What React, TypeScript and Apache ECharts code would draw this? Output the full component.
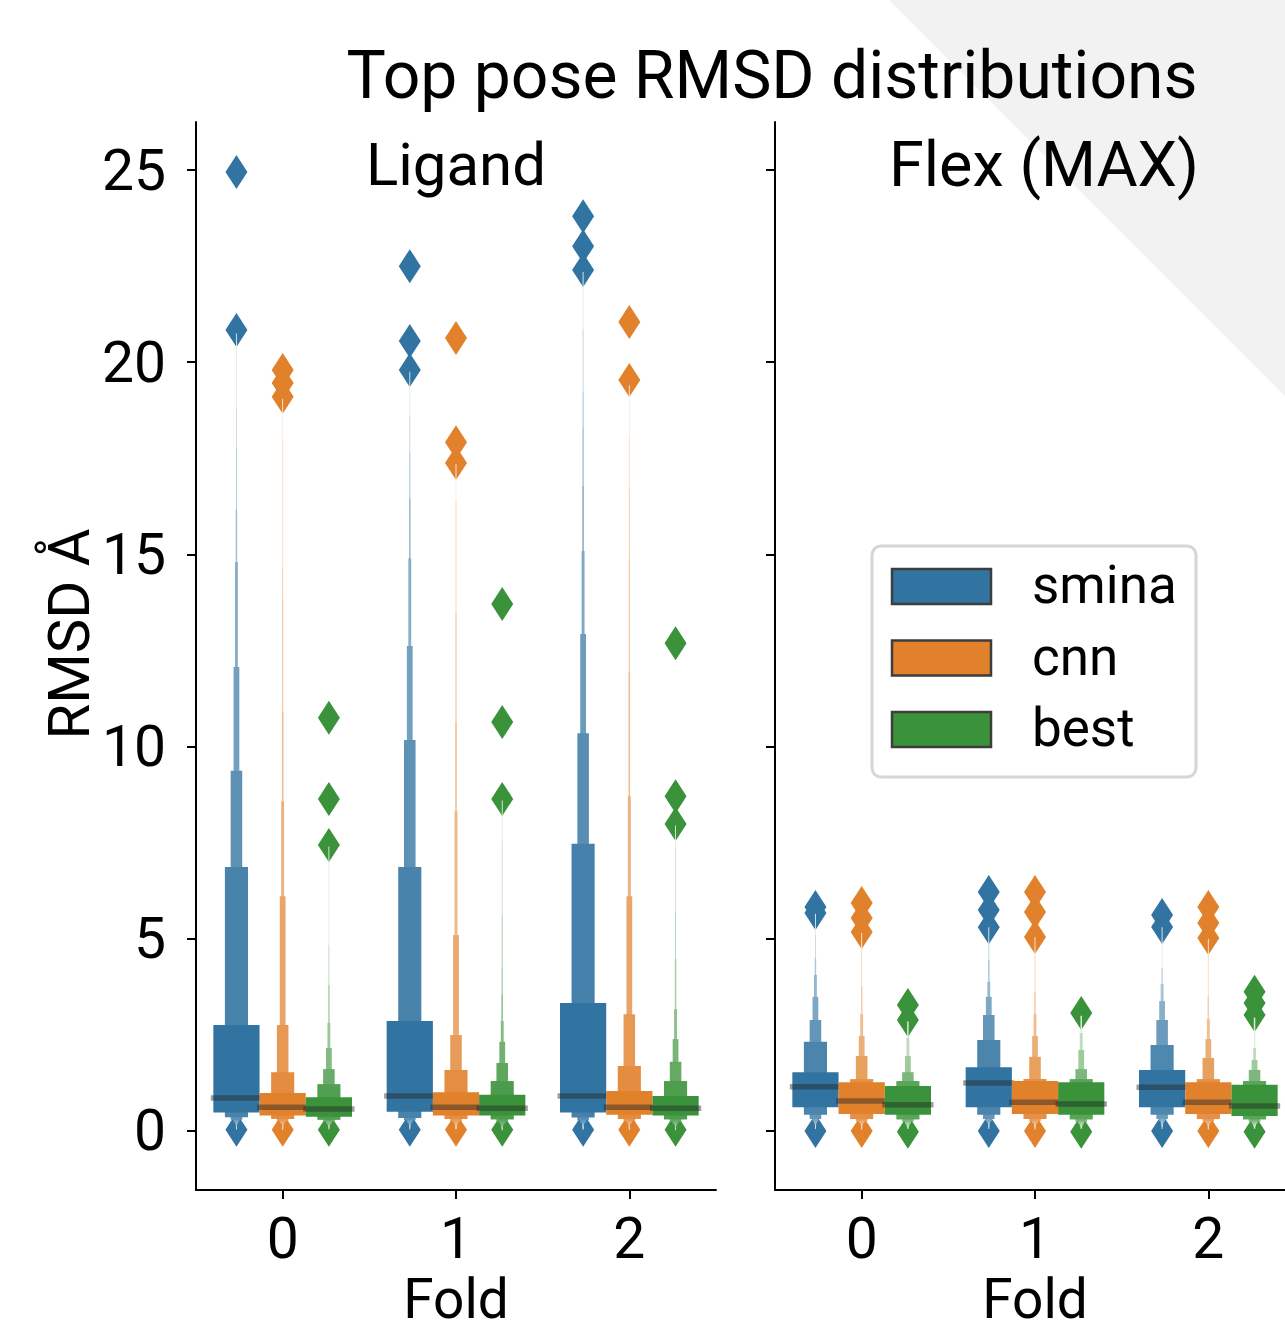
import React, { useEffect, useRef } from 'react';
import * as echarts from 'echarts';

const folds = ['0', '1', '2'];
const methods = ['smina', 'cnn', 'best'];
const methodColors = ['#3274a1', '#e1812c', '#3a923a'];
const yTicks = [0, 5, 10, 15, 20, 25];
const panelTitles = ['Ligand', 'Flex (MAX)'];

// ---------- Ligand panel (letter values: innermost first) ----------
const ligandSminaUpper = [
  [2.76, 6.87, 9.37, 12.07, 14.8, 16.18, 17.77, 18.81, 20.75],
  [2.86, 6.87, 10.17, 12.62, 14.9, 16.44, 17.64, 18.63, 19.75],
  [3.33, 7.47, 10.35, 12.93, 15.09, 16.78, 18.29, 19.22, 20.86, 22.35],
];
const ligandSminaLower = [
  [0.48, 0.36, 0.29, 0.23, 0.18, 0.14, 0.11, 0.08, 0.04],
  [0.5, 0.34, 0.28, 0.22, 0.18, 0.14, 0.11, 0.08, 0.04],
  [0.48, 0.35, 0.28, 0.22, 0.18, 0.14, 0.11, 0.08, 0.06, 0.03],
];
const ligandSminaMedian = [0.86, 0.91, 0.91];
const ligandSminaOutliers = [
  [24.95, 20.84, 0.03],
  [22.5, 20.55, 19.8, 0.03],
  [23.8, 23.02, 22.4, 0.03],
];

const ligandCnnUpper = [
  [0.99, 1.53, 2.76, 6.11, 8.58, 10.9, 13.81, 14.65, 17.98, 19.05],
  [1.01, 1.59, 2.5, 5.1, 8.32, 10.64, 13.5, 16.4, 17.35],
  [1.04, 1.69, 3.04, 6.11, 8.71, 11.94, 14.88, 16.68, 18.05, 19.4],
];
const ligandCnnLower = [
  [0.4, 0.31, 0.26, 0.21, 0.17, 0.13, 0.1, 0.08, 0.06, 0.03],
  [0.4, 0.31, 0.26, 0.21, 0.17, 0.13, 0.1, 0.07, 0.04],
  [0.42, 0.31, 0.26, 0.21, 0.17, 0.13, 0.1, 0.08, 0.06, 0.03],
];
const ligandCnnMedian = [0.62, 0.62, 0.62];
const ligandCnnOutliers = [
  [19.8, 19.46, 19.1, 0.03],
  [20.63, 17.92, 17.38, 0.03],
  [21.05, 19.54, 0.03],
];

const ligandBestUpper = [
  [0.88, 1.22, 1.61, 2.16, 2.81, 3.8, 4.84, 7.4],
  [0.94, 1.3, 1.77, 2.32, 2.86, 3.54, 4.24, 5.59, 7.54, 8.6],
  [0.91, 1.3, 1.8, 2.39, 3.17, 4.47, 5.72, 7.39, 7.95],
];
const ligandBestLower = [
  [0.37, 0.29, 0.24, 0.19, 0.15, 0.11, 0.08, 0.04],
  [0.4, 0.3, 0.24, 0.19, 0.15, 0.11, 0.08, 0.06, 0.04, 0.02],
  [0.4, 0.3, 0.24, 0.19, 0.15, 0.11, 0.08, 0.05, 0.02],
];
const ligandBestMedian = [0.57, 0.59, 0.59];
const ligandBestOutliers = [
  [10.75, 8.64, 7.44, 0.03],
  [13.71, 10.64, 8.64, 0.03],
  [12.69, 8.71, 7.99, 0.03],
];

// ---------- Flex (MAX) panel ----------
const flexSminaUpper = [
  [1.53, 2.32, 2.89, 3.49, 4.06, 4.5, 5.1, 5.65],
  [1.66, 2.37, 3.02, 3.49, 3.88, 4.45, 4.92, 5.3],
  [1.59, 2.24, 2.89, 3.38, 3.82, 4.24, 5.3],
];
const flexSminaLower = [
  [0.62, 0.42, 0.31, 0.25, 0.2, 0.15, 0.1, 0.05],
  [0.62, 0.42, 0.31, 0.25, 0.2, 0.15, 0.1, 0.05],
  [0.62, 0.42, 0.31, 0.25, 0.2, 0.12, 0.05],
];
const flexSminaMedian = [1.15, 1.25, 1.14];
const flexSminaOutliers = [
  [5.83, 5.67, 0.0],
  [6.22, 5.75, 5.3, 0.0],
  [5.62, 5.31, 0.0],
];

const flexCnnUpper = [
  [1.27, 1.35, 1.95, 2.47, 3.04, 3.77, 4.89, 5.15],
  [1.3, 1.35, 1.93, 2.47, 3.04, 3.62, 4.58, 5.05],
  [1.27, 1.35, 1.9, 2.39, 2.91, 3.49, 4.6, 5.0],
];
const flexCnnLower = [
  [0.44, 0.31, 0.26, 0.21, 0.17, 0.12, 0.08, 0.04],
  [0.44, 0.31, 0.26, 0.21, 0.17, 0.12, 0.08, 0.04],
  [0.44, 0.31, 0.26, 0.21, 0.17, 0.12, 0.08, 0.04],
];
const flexCnnMedian = [0.78, 0.75, 0.75];
const flexCnnOutliers = [
  [5.93, 5.54, 5.18, 0.0],
  [6.22, 5.7, 5.05, 0.0],
  [5.83, 5.41, 5.02, 0.0],
];

const flexBestUpper = [
  [1.17, 1.3, 1.53, 1.95, 2.42, 2.85],
  [1.27, 1.35, 1.61, 2.11, 2.55, 3.0],
  [1.2, 1.3, 1.59, 1.85, 2.16, 2.95],
];
const flexBestLower = [
  [0.42, 0.3, 0.24, 0.18, 0.12, 0.06],
  [0.42, 0.3, 0.24, 0.18, 0.12, 0.06],
  [0.39, 0.3, 0.24, 0.18, 0.12, 0.06],
];
const flexBestMedian = [0.68, 0.7, 0.65];
const flexBestOutliers = [
  [3.28, 2.89, -0.02],
  [3.07, -0.02],
  [3.62, 3.33, 3.02, -0.02],
];

type Group = { upper: number[]; lower: number[]; median: number; outliers: number[] };

function makePanel(
  uppers: number[][][],
  lowers: number[][][],
  medians: number[][],
  outs: number[][][]
): Group[][] {
  return uppers.map((u, m) =>
    u.map((up, f) => ({ upper: up, lower: lowers[m][f], median: medians[m][f], outliers: outs[m][f] }))
  );
}

const panels: Group[][][] = [
  makePanel(
    [ligandSminaUpper, ligandCnnUpper, ligandBestUpper],
    [ligandSminaLower, ligandCnnLower, ligandBestLower],
    [ligandSminaMedian, ligandCnnMedian, ligandBestMedian],
    [ligandSminaOutliers, ligandCnnOutliers, ligandBestOutliers]
  ),
  makePanel(
    [flexSminaUpper, flexCnnUpper, flexBestUpper],
    [flexSminaLower, flexCnnLower, flexBestLower],
    [flexSminaMedian, flexCnnMedian, flexBestMedian],
    [flexSminaOutliers, flexCnnOutliers, flexBestOutliers]
  ),
];

function mix(hex: string, t: number) {
  const r = parseInt(hex.slice(1, 3), 16);
  const g = parseInt(hex.slice(3, 5), 16);
  const b = parseInt(hex.slice(5, 7), 16);
  const m = (c: number) => Math.round(c + (255 - c) * t);
  return `rgb(${m(r)},${m(g)},${m(b)})`;
}

const FONT = 'Roboto';

function makeRenderItem(panel: Group[][]) {
  return (params: any, api: any) => {
    const fold = api.value(0) as number;
    const m = api.value(1) as number;
    const g = panel[m][fold];
    const center = api.coord([fold, 0]);
    const band = api.size([1, 0])[0];
    const W = (band * 0.8) / 3;
    const cx = center[0] + (m - 1) * W;
    const color = methodColors[m];
    const k = g.upper.length;
    const children: any[] = [];
    for (const o of g.outliers) {
      const y = api.coord([fold, o])[1];
      children.push({
        type: 'polygon',
        shape: { points: [[cx, y - 17], [cx + 11, y], [cx, y + 17], [cx - 11, y]] },
        style: { fill: color },
      });
    }
    for (let i = k - 1; i >= 0; i--) {
      const w = Math.max(W * Math.pow(0.5, i), 0.9);
      const yTop = api.coord([fold, g.upper[i]])[1];
      const yBot = api.coord([fold, g.lower[i]])[1];
      children.push({
        type: 'rect',
        shape: { x: cx - w / 2, y: yTop, width: w, height: yBot - yTop },
        style: { fill: mix(color, k > 1 ? (0.85 * i) / (k - 1) : 0) },
      });
    }
    const ym = api.coord([fold, g.median])[1];
    children.push({
      type: 'rect',
      shape: { x: cx - W / 2 - 2.5, y: ym - 2.75, width: W + 5, height: 5.5 },
      style: { fill: 'rgba(38,38,38,0.45)' },
    });
    return { type: 'group', children };
  };
}

export default function App() {
  const ref = useRef<HTMLDivElement>(null);
  useEffect(() => {
    document.body.style.margin = '0';
    const chart = echarts.init(ref.current!, null, { renderer: 'svg' });
    const axisColor = '#000';
    const mkX = (gi: number) => ({
      type: 'category',
      gridIndex: gi,
      data: folds,
      boundaryGap: true,
      axisLine: { show: true, onZero: false, lineStyle: { color: axisColor, width: 2 } },
      axisTick: { show: true, alignWithLabel: true, length: 9, lineStyle: { color: axisColor, width: 2 } },
      axisLabel: { fontSize: 57, color: '#000', fontFamily: FONT, margin: 48, verticalAlign: 'middle' },
      name: 'Fold',
      nameLocation: 'middle',
      nameGap: 100,
      nameTextStyle: { fontSize: 55, lineHeight: 55, color: '#000', fontFamily: FONT, verticalAlign: 'middle' },
      splitLine: { show: false },
    });
    const mkY = (gi: number) => ({
      type: 'value',
      gridIndex: gi,
      min: -1.535,
      max: 26.25,
      axisLine: { show: true, onZero: false, lineStyle: { color: axisColor, width: 2 } },
      axisTick: { show: true, length: 9, customValues: yTicks, lineStyle: { color: axisColor, width: 2 } },
      axisLabel: {
        show: gi === 0,
        customValues: yTicks,
        fontSize: 57,
        color: '#000',
        fontFamily: FONT,
        margin: 30,
      },
      splitLine: { show: false },
    });
    const seriesData = (p: number) => {
      const d: any[] = [];
      for (let m = 0; m < methods.length; m++) {
        for (let f = 0; f < folds.length; f++) {
          d.push({ name: methods[m], value: [f, m, panels[p][m][f].median] });
        }
      }
      return d;
    };
    const legendEls: any[] = [
      {
        type: 'rect',
        shape: { x: 872, y: 546, width: 324, height: 231, r: 9 },
        style: { fill: '#fff', stroke: '#d6d6d6', lineWidth: 3 },
        z: 50,
      },
    ];
    methods.forEach((name, i) => {
      legendEls.push({
        type: 'rect',
        shape: { x: 892, y: 569 + i * 71.5, width: 99, height: 35 },
        style: { fill: methodColors[i], stroke: '#3d3d3d', lineWidth: 2.5 },
        z: 51,
      });
      legendEls.push({
        type: 'text',
        x: 1032,
        y: 585 + i * 71.5,
        style: { text: name, fontSize: 53, fontFamily: FONT, fill: '#000', textAlign: 'left', textVerticalAlign: 'middle' },
        z: 51,
      });
    });
    const option: any = {
      animation: false,
      backgroundColor: 'transparent',
      textStyle: { fontFamily: FONT },
      grid: [
        { left: 196, top: 122, width: 520, height: 1068, containLabel: false, outerBoundsMode: 'none' },
        { left: 775, top: 122, width: 520, height: 1068, containLabel: false, outerBoundsMode: 'none' },
      ],
      xAxis: [mkX(0), mkX(1)],
      yAxis: [mkY(0), mkY(1)],
      graphic: {
        elements: [
          {
            type: 'polygon',
            shape: { points: [[889, 0], [1285, 0], [1285, 396]] },
            style: { fill: '#f2f2f2' },
            z: -10,
            silent: true,
          },
          {
            type: 'text',
            x: 772,
            y: 75,
            style: { text: 'Top pose RMSD distributions', fontSize: 66, fontFamily: FONT, fill: '#000', textAlign: 'center', textVerticalAlign: 'middle' },
            z: 10,
          },
          {
            type: 'text',
            x: 456,
            y: 164,
            style: { text: panelTitles[0], fontSize: 60, fontFamily: FONT, fill: '#000', textAlign: 'center', textVerticalAlign: 'middle' },
            z: 10,
          },
          {
            type: 'text',
            x: 1044,
            y: 164,
            style: { text: panelTitles[1], fontSize: 63, fontFamily: FONT, fill: '#000', textAlign: 'center', textVerticalAlign: 'middle' },
            z: 10,
          },
          {
            type: 'text',
            x: 69,
            y: 634,
            rotation: Math.PI / 2,
            style: { text: 'RMSD Å', fontSize: 58, fontFamily: FONT, fill: '#000', textAlign: 'center', textVerticalAlign: 'middle' },
            z: 10,
          },
          ...legendEls,
        ],
      },
      series: [0, 1].map((p) => ({
        type: 'custom',
        xAxisIndex: p,
        yAxisIndex: p,
        renderItem: makeRenderItem(panels[p]),
        encode: { x: 0, y: 2 },
        data: seriesData(p),
        clip: false,
      })),
    };
    chart.setOption(option);
    return () => chart.dispose();
  }, []);
  return (
    <div
      ref={ref}
      style={{ position: 'absolute', left: 0, top: 0, width: 1285, height: 1330, background: '#fff', overflow: 'hidden' }}
    />
  );
}
